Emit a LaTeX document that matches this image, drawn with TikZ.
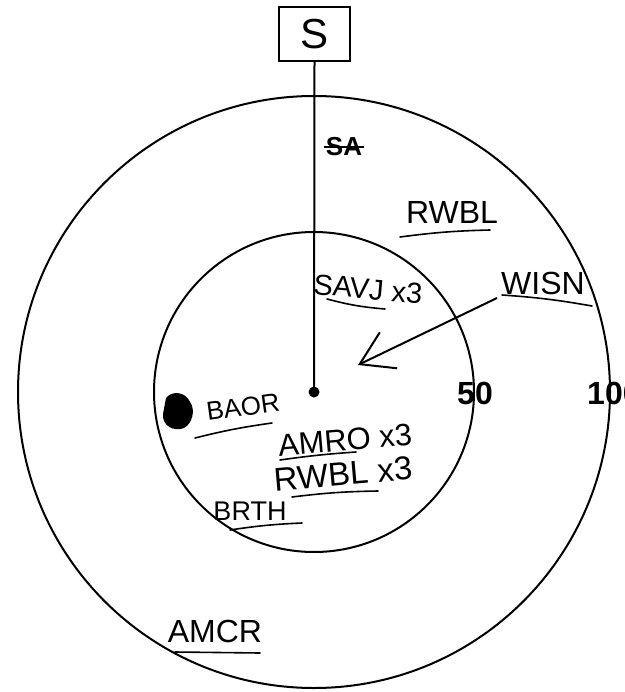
\documentclass[tikz,border=0pt]{standalone}
\usepackage{fontspec}
\setmainfont{Liberation Sans}
\usetikzlibrary{calc, positioning, arrows.meta}

\begin{document}
\begin{tikzpicture}[x=1pt, y=-1pt, >=stealth,
    hand/.style={font=\fontsize{#1}{#1}\selectfont, inner sep=0pt},
    hand/.default=32,
    uline/.style={line width=1.6pt, line cap=round},
    ring/.style={line width=2pt}]

    % =================================================================
    % 1. KHUNG VA THONG SO CO BAN
    % =================================================================
    \useasboundingbox (0,0) rectangle (624,692);
    \def\R{296pt}   % ban kinh vong ngoai (100)
    \def\r{160pt}   % ban kinh vong trong (50)

    \coordinate (O) at (314,392);     % tam diem quan sat

    % =================================================================
    % 2. HAI VONG TRON DONG TAM
    % =================================================================
    \draw[ring] (O) circle (\R);
    \draw[ring] (O) circle (\r);

    \node[font=\fontsize{32}{32}\selectfont\bfseries, inner sep=0pt] (r50) at (475,393) {50};
    \node[font=\fontsize{32}{32}\selectfont\bfseries, inner sep=0pt, anchor=west] (r100) at (587,393) {100};

    % =================================================================
    % 3. DIEM S VA DUONG NOI
    % =================================================================
    \node[draw, line width=1.6pt, minimum width=71pt, minimum height=54pt,
          font=\fontsize{42}{42}\selectfont] (S) at (314.5,34) {S};
    \draw[line width=2pt] (S.south) -- (O);
    \fill (O) circle (5.5pt);

    % Mui ten WISN
    \coordinate (wtail) at (497,298);
    \coordinate (wtip) at (358,365);
    \draw[line width=2pt, -{Straight Barb[length=32pt, width=40pt, line width=2pt]}] (wtail) -- (wtip);

    % =================================================================
    % 4. NHAN (CHU VIET TAY)
    % =================================================================
    \node[inner sep=0pt, font=\fontsize{26}{26}\selectfont\bfseries] (sa) at (344,147) {SA};
    \draw[line width=2.5pt] ([xshift=-2pt]sa.west) -- ([xshift=2pt]sa.east);

    \node[hand] (rwbl) at (452,212) {RWBL};
    \draw[uline] (400,237) to[bend left=3] (490,230);

    \node[hand] (wisn) at (543,283) {WISN};
    \draw[uline] (502,295) to[bend left=3] (592,306);

    \node[hand=29, rotate=-5] (savj) at (368,289) {SAVJ x3};
    \draw[uline] (327,299) to[bend right=5] (385,309);

    \fill (166,398) .. controls (172,390) and (186,392) .. (190,402)
          .. controls (196,410) and (192,424) .. (184,428)
          .. controls (174,432) and (162,426) .. (163,414) -- cycle;
    \node[hand=26, rotate=8] (baor) at (243,407) {BAOR};
    \draw[uline] (195,438) to[bend left=3] (272,423);

    \node[hand=31, rotate=5] (amro) at (345,440) {AMRO x3};
    \draw[uline] (280,460) to[bend left=2] (356,452);

    \node[hand=33, rotate=5] (rwbl3) at (343,474) {RWBL x3};
    \draw[uline] (292,497) to[bend left=3] (378,491);

    \node[hand=27] (brth) at (250,511) {BRTH};
    \draw[uline] (230,530) to[bend left=3] (302,523);

    \node[hand] (amcr) at (215,631) {AMCR};
    \draw[uline] (175,652) -- (260,653);

\end{tikzpicture}
\end{document}
